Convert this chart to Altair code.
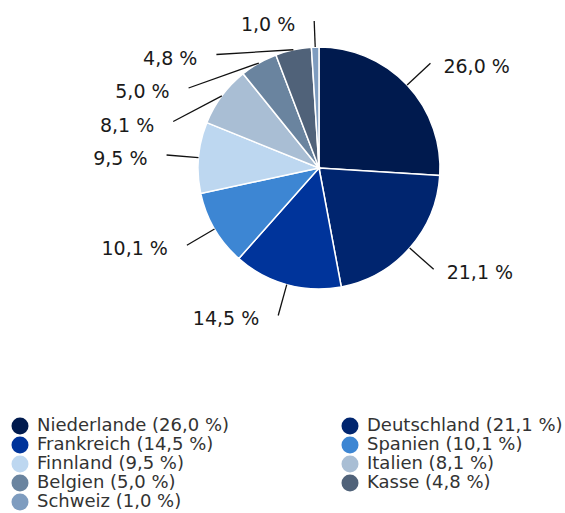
import math
import altair as alt
import pandas as pd

# ---- data ----
countries = ["Niederlande", "Deutschland", "Frankreich", "Spanien", "Finnland",
             "Italien", "Belgien", "Kasse", "Schweiz"]
values = [26.0, 21.1, 14.5, 10.1, 9.5, 8.1, 5.0, 4.8, 1.0]
colors = ["#001a4e", "#00256f", "#00349b", "#3d86d3", "#bdd7f0",
          "#a9bed4", "#6a849f", "#506279", "#7e9cbf"]

# ---- layout constants ----
CX, CY = 319, 168       # pie centre
R_PIE = 121             # pie radius
R_LAB = 153             # connector end radius
GAP = 33.5              # min vertical distance between labels on one side
TOP = 21                # highest allowed label y
FONT = "DejaVu Sans"
LEGEND_COLS = 2


def fmt(v):
    return f"{v:.1f}".replace(".", ",") + " %"


labels = [fmt(v) for v in values]
legend_labels = [f"{c} ({l})" for c, l in zip(countries, labels)]

df = pd.DataFrame({
    "idx": range(len(countries)),
    "country": countries,
    "value": values,
    "label": labels,
    "legend": legend_labels,
})

# legend is filled column by column: reorder so it reads row by row
n = len(countries)
order = [i for c in range(LEGEND_COLS) for i in range(c, n, LEGEND_COLS)]
legend_domain = [legend_labels[i] for i in order]
legend_range = [colors[i] for i in order]

# ---- label placement computed from the data (spread labels on each side) ----
total = sum(values)
cum = 0.0
recs = []
for i, v in enumerate(values):
    a = math.radians((cum + v / 2) / total * 360.0)
    cum += v
    recs.append({
        "i": i, "a": a,
        "side": "R" if math.sin(a) > 0 else "L",
        "ny": CY - R_LAB * math.cos(a),
        "nx": CX + R_LAB * math.sin(a),
    })

for side in ("L", "R"):
    items = sorted([r for r in recs if r["side"] == side], key=lambda r: r["ny"])
    prev = None
    for r in items:
        y = max(r["ny"], TOP)
        if prev is not None:
            y = max(y, prev + GAP)
        r["y"] = y
        r["clamped_top"] = (prev is None and r["ny"] < TOP)
        prev = y
    for r in items:
        sgn = 1 if side == "R" else -1
        if r["clamped_top"]:
            r["x"] = r["nx"]
        else:
            dy = r["y"] - CY
            r["x"] = CX + sgn * math.sqrt(max(R_LAB ** 2 - dy ** 2, 0))

recs.sort(key=lambda r: r["i"])
df["x1"] = [CX + R_PIE * math.sin(r["a"]) for r in recs]
df["y1"] = [CY - R_PIE * math.cos(r["a"]) for r in recs]
df["x2"] = [r["x"] for r in recs]
df["y2"] = [r["y"] for r in recs]
df["side"] = [r["side"] for r in recs]
df["tx"] = [r["x"] + (13 if r["side"] == "R" else -19) for r in recs]
df["ty"] = [r["y"] + 4 for r in recs]

base = alt.Chart(df)

pie = base.mark_arc(outerRadius=R_PIE, stroke="white", strokeWidth=1.5).encode(
    theta=alt.Theta("value:Q", stack=True),
    color=alt.Color(
        "legend:N",
        scale=alt.Scale(domain=legend_domain, range=legend_range),
        legend=alt.Legend(
            title=None, orient="none", legendX=11, legendY=417,
            columns=LEGEND_COLS, columnPadding=111, rowPadding=1, padding=0,
            symbolType="circle", symbolSize=289, symbolStrokeWidth=0,
            labelFont=FONT, labelFontSize=18, labelColor="#333333",
            labelOffset=8, labelLimit=0,
        ),
    ),
    order=alt.Order("idx:Q"),
    x=alt.value(CX),
    y=alt.value(CY),
)

connectors = base.mark_rule(color="#111111", strokeWidth=1.3).encode(
    x=alt.X("x1:Q", scale=None, axis=None),
    y=alt.Y("y1:Q", scale=None, axis=None),
    x2="x2:Q",
    y2="y2:Q",
)

text_left = base.transform_filter(alt.datum.side == "L").mark_text(
    align="right", baseline="middle", font=FONT, fontSize=19, color="#1a1a1a"
).encode(
    x=alt.X("tx:Q", scale=None, axis=None),
    y=alt.Y("ty:Q", scale=None, axis=None),
    text="label:N",
)

text_right = base.transform_filter(alt.datum.side == "R").mark_text(
    align="left", baseline="middle", font=FONT, fontSize=19, color="#1a1a1a"
).encode(
    x=alt.X("tx:Q", scale=None, axis=None),
    y=alt.Y("ty:Q", scale=None, axis=None),
    text="label:N",
)

chart = alt.layer(pie, connectors, text_left, text_right).properties(
    width=565, height=513, padding=0,
    autosize=alt.AutoSizeParams(type="none"),
).configure_view(stroke=None)

chart.save("out.html", embed_options={"renderer": "svg", "actions": False})
